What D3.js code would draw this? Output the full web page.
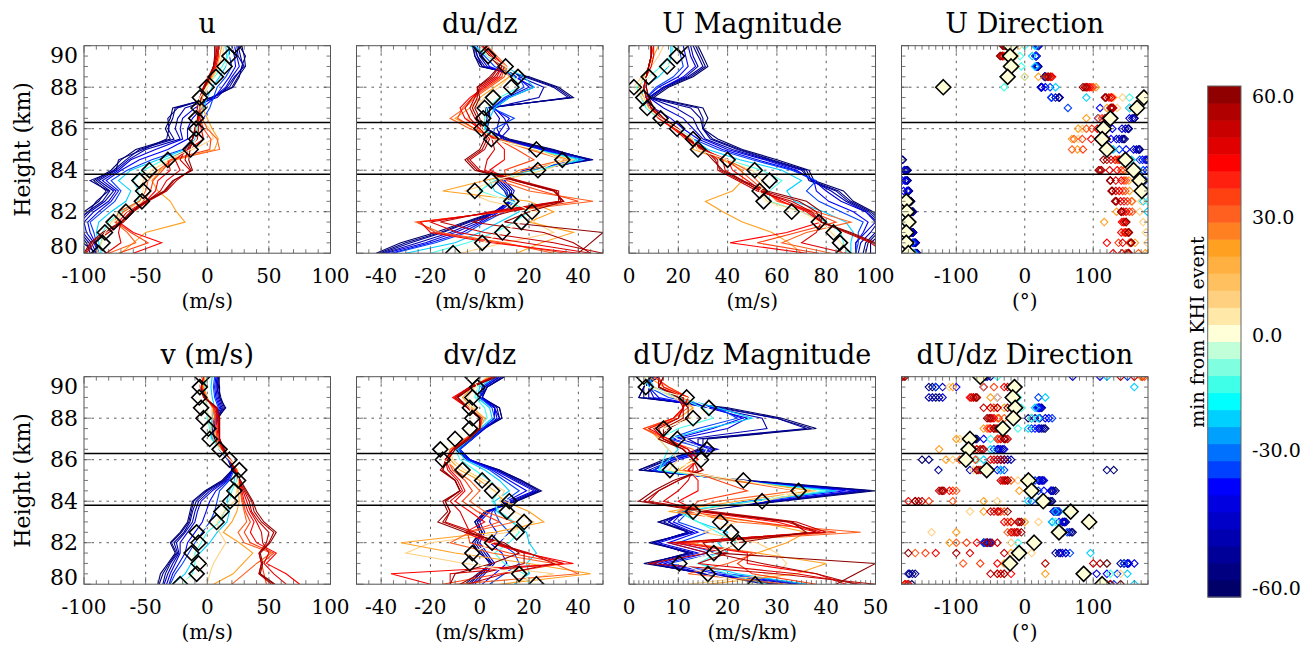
<!DOCTYPE html>
<html>
<head>
<meta charset="utf-8">
<script src="https://cdn.jsdelivr.net/npm/d3@7"></script>
<style>
  body { margin: 0; background: #fff; }
  text { font-family: "DejaVu Serif", serif; fill: #000; }
</style>
</head>
<body>
<svg width="1303" height="649"></svg>
<script>
// --- data: profiles, top (90 km) to bottom (80 km) ---
const heights = [90, 89.5, 89, 88.5, 88, 87.5, 87, 86.5, 86, 85.5, 85, 84.5, 84, 83.5, 83, 82.5, 82, 81.5, 81, 80.5, 80];
const times = [-60, -55, -50, -45, -40, -35, -30, -20, -10, 10, 20, 30, 35, 40, 45, 50, 55, 60];
const shearLayer = [86.3, 83.8];

const uProf = [
  [28,30,31,25,20,5,-28,-30,-34,-30,-58,-70,-78,-92,-82,-88,-100,-108,-105,-98,-95],
  [26,31,28,26,21,3,-24,-32,-31,-33,-52,-72,-74,-95,-80,-90,-96,-110,-100,-101,-90],
  [25,27,29,23,18,4,-26,-28,-32,-27,-55,-66,-76,-90,-79,-85,-97,-105,-103,-96,-92],
  [24,25,30,22,16,8,-18,-24,-26,-22,-50,-64,-74,-88,-76,-83,-95,-103,-101,-94,-90],
  [22,24,26,20,15,5,-10,-20,-22,-20,-42,-62,-72,-85,-74,-80,-92,-100,-98,-92,-88],
  [20,22,23,18,12,6,-4,-12,-16,-16,-32,-55,-70,-82,-72,-78,-88,-97,-95,-91,-87],
  [18,18,20,15,8,5,2,-3,-8,-12,-20,-45,-65,-78,-70,-75,-85,-95,-92,-90,-88],
  [15,16,15,10,4,0,-3,-5,-8,-10,-18,-40,-62,-72,-62,-66,-78,-88,-90,-88,-86],
  [18,17,12,6,0,-4,-6,-8,-8,-9,-15,-35,-52,-60,-56,-56,-70,-80,-85,-86,-88],
  [14,12,9,5,0,-4,-5,-6,2,5,-12,-30,-45,-52,-52,-55,-68,-78,-82,-86,-90],
  [12,10,8,4,-1,-4,-4,0,4,9,6,-25,-38,-45,-40,-30,-25,-18,-50,-60,-70],
  [10,8,6,3,-2,-5,-6,-4,0,8,10,-28,-40,-48,-50,-55,-72,-75,-65,-58,-80],
  [9,8,6,3,-2,-5,-7,-6,-3,3,2,-30,-36,-44,-46,-52,-68,-74,-62,-48,-72],
  [9,9,7,2,-3,-6,-7,-6,-5,-3,-15,-32,-30,-40,-42,-50,-65,-72,-60,-37,-60],
  [9,8,6,1,-3,-6,-8,-7,-7,-8,-16,-26,-22,-33,-38,-49,-62,-70,-72,-70,-82],
  [8,7,5,1,-3,-5,-8,-8,-9,-12,-18,-22,-14,-25,-33,-48,-60,-68,-80,-92,-98],
  [7,7,5,2,-3,-5,-8,-8,-10,-12,-16,-18,-13,-27,-34,-49,-61,-69,-83,-94,-99],
  [6,6,5,2,-2,-5,-7,-8,-10,-12,-14,-15,-12,-28,-35,-50,-62,-70,-85,-95,-100]
];
const uEvent = [22,18,14,7,-0.5,-6,-7,-9,-9,-9,-13.5,-32,-47,-55,-52,-53,-66,-76,-83,-85,-88];

const dudzProf = [
  [-3,-2,0,20,32,38,2,3,2,12,30,44,22,6,10,12,6,-6,-18,-32,-42],
  [-2,-2,1,19,31,37,3,4,2,11,29,45,21,7,11,12,7,-5,-16,-30,-41],
  [-2,-1,1,18,30,36,4,4,3,10,28,46,20,8,12,13,8,-4,-15,-28,-40],
  [-2,-1,2,16,26,24,5,8,7,9,27,44,19,9,13,12,7,-2,-12,-25,-39],
  [-1,0,3,14,22,12,6,10,12,8,26,42,18,10,14,12,6,0,-10,-22,-38],
  [-2,1,4,15,20,11,5,12,9,6,25,41,19,8,12,13,8,1,-7,-20,-36],
  [-3,2,6,16,18,10,5,14,6,5,24,40,20,6,10,14,10,2,-5,-18,-35],
  [-4,4,10,18,22,12,6,4,2,6,22,42,22,4,6,14,16,8,0,-10,-30],
  [-2,3,9,14,16,8,3,2,2,5,22,40,24,6,0,12,20,14,6,-5,-20],
  [0,4,8,12,8,2,-2,-5,0,6,20,38,26,8,-6,4,24,22,30,10,-8],
  [2,6,10,12,6,0,-4,-10,-2,8,22,36,20,2,-15,20,30,20,38,25,15],
  [3,7,11,10,4,-2,-6,-12,-4,8,20,34,16,8,20,46,10,-26,-16,10,30],
  [2,6,10,9,3,-3,-7,-9,-2,7,15,22,10,11,25,40,9,-25,-18,8,35],
  [2,6,10,8,2,-4,-8,-6,0,6,10,10,4,14,30,34,8,-24,-20,5,40],
  [1,5,9,7,1,-3,-6,-4,0,5,6,3,2,15,31,33,6,-20,-9,18,45],
  [1,5,9,6,0,-2,-4,-2,1,4,2,-4,0,16,32,32,4,-16,2,30,50],
  [0,4,8,5,-1,-1,-3,-1,1,3,1,-5,-1,15,31,33,12,-3,26,38,45],
  [0,4,8,4,-1,0,-2,0,1,2,0,-6,-2,14,30,34,20,10,50,45,40]
];
const dudzEvent = [0,3.4,10.5,15.5,12.8,5.4,2,1.4,0.7,4.7,23,33.5,23.6,4.7,-2,12.8,21.2,16.9,9.2,1,-10.8];

const umagProf = [
  [28,30,32,26,16,10,30,32,30,36,46,60,73,75,87,91,99,104,103,98,98],
  [27,29,31,25,15,9,28,30,30,34,45,58,72,74,85,90,98,103,101,97,96],
  [26,28,30,24,14,8,25,29,30,33,44,57,71,73,84,89,97,102,100,96,95],
  [25,26,28,23,14,8,19,26,28,31,42,56,70,74,82,88,96,101,98,94,93],
  [24,25,27,22,14,8,14,22,26,30,40,55,68,75,80,86,96,100,96,92,92],
  [22,23,24,20,12,7,10,17,22,28,38,52,67,75,76,81,91,97,95,92,92],
  [20,21,22,18,11,7,8,12,19,26,36,50,66,76,72,77,86,95,93,93,92],
  [17,17,16,12,6,5,7,12,20,26,32,45,62,70,64,67,79,88,91,90,90],
  [18,17,13,8,3,5,7,12,19,26,29,40,54,62,57,57,70,80,86,87,89],
  [14,12,9,5,2,5,8,13,18,25,28,38,50,54,53,56,70,78,82,86,90],
  [12,10,8,6,4,6,8,12,19,26,26,38,46,46,42,31,38,46,58,65,70],
  [10,9,8,7,6,7,9,13,19,25,28,40,48,52,56,60,76,90,72,62,82],
  [10,9,8,7,6,7,9,13,18,24,29,40,45,50,55,61,74,84,68,52,77],
  [10,10,9,7,6,7,9,12,18,23,30,40,42,48,54,62,72,78,64,41,72],
  [9,9,8,7,6,7,9,13,19,24,31,38,39,46,53,64,73,78,76,70,88],
  [9,9,8,7,6,7,9,13,19,24,31,36,36,44,52,66,74,78,88,98,104],
  [9,9,8,7,7,8,10,14,20,24,31,35,37,45,54,69,76,78,89,99,105],
  [9,9,8,7,7,8,10,14,20,24,30,34,38,46,56,72,78,78,90,100,106]
];
const umagEvent = [21,19.5,15.5,8,2,5.8,7.4,12.8,19.5,26,28,40,51,57,53,54.6,66,77,83,85.6,87];

const udirProf = [
  [20,17,20,29,24,50,168,160,152,146,168,-178,-171,-171,-169,-166,-163,-166,-163,-159,-157],
  [20,17,19,30,24,50,168,160,151,144,167,-179,-172,-172,-170,-166,-164,-167,-163,-160,-158],
  [20,17,19,30,24,51,169,160,151,142,166,180,-173,-172,-170,-167,-164,-167,-164,-160,-159],
  [20,16,18,29,24,45,162,157,147,138,163,178,-175,-174,-171,-168,-165,-168,-164,-161,-159],
  [20,16,17,29,25,39,153,153,142,134,159,176,-176,-175,-172,-169,-167,-168,-165,-162,-159],
  [19,16,17,30,30,39,110,130,128,126,148,172,178,-179,-177,-173,-170,-169,-166,-163,-160],
  [18,16,17,31,37,39,63,107,115,119,138,168,173,176,178,-177,-173,-171,-168,-164,-161],
  [15,11,15,31,45,90,127,117,114,113,129,156,166,166,166,173,179,-176,-172,-168,-162],
  [0,-7,-5,0,-30,153,153,129,114,111,122,150,161,167,170,180,-176,-173,-173,-172,-167],
  [-8,-14,-13,0,90,143,135,119,84,78,116,141,154,165,171,170,168,173,177,179,180],
  [-20,-25,-18,20,104,129,120,90,78,69,77,135,146,152,153,157,134,116,150,161,176],
  [-25,-30,-25,35,100,126,127,108,90,72,69,136,145,148,147,156,157,145,148,153,166],
  [-26,-31,-22,38,98,126,127,113,98,84,85,138,141,145,143,150,153,144,145,137,148],
  [-28,-32,-20,40,95,127,128,117,106,97,120,139,135,141,138,145,148,142,141,120,129],
  [-29,-32,-21,38,92,123,129,120,111,108,122,132,124,133,133,140,144,145,147,143,142],
  [-30,-33,-22,35,90,119,129,122,117,119,125,126,112,125,128,134,141,148,151,155,152],
  [-31,-35,-24,33,88,118,127,121,118,119,121,120,110,125,127,133,141,148,152,155,151],
  [-32,-36,-25,30,85,117,125,120,119,119,117,115,108,125,127,132,141,148,152,156,151]
];
const udirEvent = [-21,-21.5,-20,-25,-119,174,164,125,115,113,120,147,159,168,171,-173,-172,-170,-173,-173,-170];

const vProf = [
  [10,9,11,14,9,6,6,11,18,20,12,-2,-12,-14,-16,-22,-30,-26,-32,-38,-40],
  [9,10,10,15,8,6,5,11,19,21,13,-1,-11,-13,-15,-21,-29,-25,-31,-36,-39],
  [9,8,10,13,8,5,5,10,18,21,14,0,-9,-12,-14,-19,-27,-24,-30,-34,-36],
  [8,8,9,12,8,5,6,10,17,20,15,2,-7,-10,-12,-18,-25,-23,-28,-32,-35],
  [8,7,8,11,7,4,5,10,17,21,16,4,-5,-8,-10,-16,-22,-22,-26,-30,-33],
  [7,6,7,10,6,4,4,10,17,21,17,7,2,-1,-4,-10,-16,-18,-23,-28,-31],
  [6,5,6,9,6,4,4,10,17,22,18,10,8,6,2,-4,-10,-15,-20,-26,-30],
  [4,3,4,6,4,3,4,10,18,23,22,18,16,18,16,8,2,-6,-13,-18,-28],
  [0,-2,-1,0,0,2,3,10,18,24,24,20,18,14,10,0,-5,-10,-10,-12,-20],
  [-2,-3,-2,0,1,3,5,11,18,24,25,24,22,14,8,10,15,10,5,2,0],
  [-2,-3,0,4,4,5,7,12,19,24,25,25,26,24,20,13,26,37,29,21,5],
  [-3,-4,-1,5,6,7,8,12,19,24,26,27,28,30,32,25,30,52,40,30,20],
  [-3,-4,-1,5,7,7,8,12,19,24,26,27,29,31,35,30,35,54,44,46,48],
  [-3,-5,-2,6,8,8,9,12,18,23,26,28,30,33,38,35,40,56,48,64,75],
  [-4,-5,-2,7,9,9,10,13,18,22,26,29,32,35,40,44,45,50,46,54,64],
  [-4,-5,-2,7,9,9,10,13,18,22,26,30,34,36,42,50,48,42,44,42,52],
  [-4,-6,-2,8,10,10,10,13,18,22,27,31,36,38,44,54,50,42,44,42,54],
  [-4,-6,-3,8,10,10,10,14,18,22,27,32,37,40,46,56,51,43,45,43,55]
];
const vEvent = [-4,-6,-6.5,-5,-3,1,2,10,18,26,25,22,18.5,11.5,7.6,-8.6,-7,-12.7,-7,-8.6,-22];

const dvdzProf = [
  [10,3,0,8,9,1,-4,-10,-5,8,17,25,15,2,-2,0,-3,0,5,-1,-6],
  [10,3,1,8,9,2,-4,-10,-4,8,17,24,15,3,-2,1,-3,0,5,0,-5],
  [9,3,1,7,8,2,-3,-9,-4,7,16,24,14,3,-1,1,-2,1,4,0,-4],
  [8,2,0,6,8,1,-3,-9,-5,7,15,23,13,3,-1,1,-1,2,5,1,-3],
  [8,2,1,6,7,2,-3,-8,-4,6,14,22,12,4,0,2,0,3,6,2,-2],
  [7,1,0,6,6,1,-3,-8,-4,5,12,19,11,5,4,7,4,9,11,6,1],
  [7,1,0,5,6,1,-3,-8,-5,4,10,16,10,6,8,12,8,14,16,10,4],
  [6,0,-1,4,5,0,-4,-9,-6,2,8,12,6,7,13,19,20,23,19,20,14],
  [4,-1,-2,2,3,-1,-5,-10,-8,-2,4,8,5,8,14,16,12,6,10,18,20],
  [3,-2,-5,-2,1,-1,-6,-12,-11,-6,2,10,8,14,22,12,-20,-30,-6,30,10],
  [4,-3,-7,-3,2,0,-6,-12,-12,-8,0,6,10,20,26,6,-32,-10,20,45,8],
  [5,-3,-9,-4,1,0,-6,-12,-13,-10,-4,0,-4,2,14,-4,-12,5,30,40,-10],
  [5,-4,-10,-5,1,0,-6,-11,-13,-11,-6,-3,-7,-1,8,-5,-4,12,34,8,-15],
  [6,-4,-11,-5,0,0,-5,-11,-14,-12,-8,-6,-10,-4,2,-6,4,18,38,-36,-20],
  [6,-4,-10,-5,0,0,-5,-11,-14,-13,-9,-7,-12,-8,-6,-4,5,19,34,-12,-12],
  [6,-4,-10,-5,0,0,-5,-11,-14,-15,-10,-8,-14,-12,-14,-2,6,20,30,10,-5],
  [6,-3,-9,-5,0,0,-5,-10,-13,-15,-10,-8,-14,-12,-15,-4,8,18,18,0,-8],
  [7,-3,-9,-5,0,0,-4,-10,-13,-16,-10,-8,-15,-13,-17,-6,10,16,5,-10,-12]
];
const dvdzEvent = [-3,-1,-3,-4,-3,-4,-10,-16,-15,-7,1,5,12,11,18,15,5,-3,-4,16,23];

const dUmagProf = [
  [6,3,2,20,31,38,16,15,7,2,24,50,31,13,6,13,4,13,3,16,30],
  [6,3,2,19,30,37,15,15,8,2,24,49,30,12,6,12,5,12,4,15,29],
  [5,3,3,18,30,36,14,14,8,3,23,48,30,12,7,12,5,12,4,15,28],
  [5,4,4,17,27,28,12,16,9,4,22,47,29,11,8,12,5,13,5,15,31],
  [5,4,5,16,24,20,10,18,10,5,22,46,28,11,8,13,6,14,6,16,34],
  [4,4,6,17,23,17,9,17,9,5,21,44,26,11,9,14,8,16,7,18,35],
  [4,4,8,18,22,14,8,16,8,5,21,42,24,12,10,16,10,18,8,20,36],
  [4,5,10,18,25,16,8,10,8,6,21,42,26,10,14,20,18,20,14,22,36],
  [3,4,10,15,17,10,6,8,7,6,21,40,25,10,14,18,22,18,14,20,28],
  [3,5,9,13,12,6,6,8,10,8,20,38,27,12,22,15,26,30,32,30,12],
  [4,7,11,13,10,4,6,11,13,10,22,37,22,8,26,36,32,26,40,34,16],
  [5,8,12,12,9,3,7,13,14,11,21,34,18,10,22,47,12,26,20,12,32],
  [5,8,12,11,9,3,8,12,14,12,18,24,14,12,26,42,11,25,22,25,38],
  [6,7,12,11,9,4,8,12,14,12,14,14,10,14,30,38,10,24,24,38,44],
  [6,6,11,11,10,5,7,12,13,13,12,10,7,15,32,39,9,20,14,34,47],
  [6,6,11,11,10,6,7,11,13,14,10,6,4,17,34,40,8,16,4,30,50],
  [7,6,10,11,11,7,7,11,13,15,10,6,3,16,33,38,15,17,27,38,46],
  [7,6,10,12,12,8,6,11,13,15,9,5,2,15,33,36,22,18,50,46,42]
];
const dUmagEvent = [3,3.4,11.7,16.2,13,7,9.8,15.8,14.6,8.3,23.2,34.4,27,13,18.5,20.7,22.2,17.2,10.2,16,25.6];

const dUdirProf = [
  [-60,-135,-125,20,5,30,-70,-40,-150,130,20,45,40,50,60,70,-60,60,150,-168,-165],
  [-58,-140,-130,22,10,28,-72,-38,-140,120,22,42,38,48,58,68,-58,52,145,-164,-170],
  [-55,-130,-140,25,15,25,-75,-35,-20,-126,25,40,35,45,55,65,-55,45,140,-160,110],
  [-50,-120,-135,24,22,22,-78,-32,-25,-80,26,39,32,44,56,56,-52,50,150,-170,115],
  [70,-60,-120,22,30,20,-80,-30,-30,-40,28,38,30,42,58,48,-50,55,160,105,120],
  [110,-100,-40,20,35,15,-60,-38,-35,-35,22,28,20,46,50,55,-55,60,152,120,125],
  [150,-130,20,18,40,10,-40,-45,-40,-30,15,20,10,50,40,62,-60,66,145,135,130],
  [120,160,30,15,20,5,-35,-50,-60,-35,10,15,5,45,40,55,10,96,120,150,160],
  [-40,-20,-10,-5,10,-10,-50,-75,-70,-50,5,12,20,60,45,50,-10,-8,30,125,140],
  [160,-110,-40,-45,-15,-45,-95,-85,-105,-75,-10,5,-40,-80,20,-136,-20,10,-25,140,-175],
  [170,-105,-50,-30,-40,-60,-100,-125,-115,-60,0,-8,-60,-60,0,-100,-110,-20,-30,30,120],
  [175,-60,-70,-50,-30,-55,-40,-70,-95,-70,-20,-100,-105,-30,-20,-25,-100,-160,-90,-40,-175],
  [172,-45,-75,-45,-38,-52,-38,-75,-72,-62,-25,-105,-140,-35,-25,-18,-85,-145,-65,-30,-172],
  [-180,-30,-80,-40,-45,-50,-35,-80,-50,-55,-30,-110,-170,-40,-30,-10,-70,-130,-40,-20,-170],
  [160,-25,-78,-50,-48,-45,-30,-70,-45,-60,-32,-118,-160,-45,-20,-15,-55,-80,30,-35,-175],
  [140,-20,-75,-60,-50,-40,-25,-60,-40,-65,-35,-125,-150,-50,-10,-20,-40,-30,100,-50,110],
  [-178,-18,-72,-40,-52,-42,-28,-62,-35,-68,-28,-122,-155,-38,-8,-12,-48,-100,110,-40,125],
  [-175,-15,-70,-25,-55,-45,-30,-65,-30,-70,-25,-120,-160,-25,-5,-5,-55,-170,120,-30,140]
];
const dUdirEvent = [-65,-15,-17.5,-14,-16.6,-32,-80,-82,-86,-55.6,5.4,10,27,67,94,50,13.7,-8.3,-21.5,86,113];

// colour table, -60 (bottom) to +60 (top), 30 steps
const cbColors = ['#000068','#000080','#000098','#0000b0','#0000c8','#0000e0','#0000ff','#0040ff','#0070ff','#00a0ff',
  '#00d0ff','#00ffff','#40ffe8','#80ffe0','#c0ffd8','#ffffd8','#ffe8a8','#ffd080','#ffc060','#ffb040',
  '#ffa020','#ff8020','#ff6020','#ff4010','#ff2010','#ff0000','#e00000','#c80000','#b00000','#900000'];
const cbTicks = [-60, -30, 0, 30, 60];
const eventColor = '#ffffd8';

const panels = [
  { title: 'u', dom: [-100, 100], ticks: [-100, -50, 0, 50, 100], minor: 10, unit: '(m/s)', prof: uProf, ev: uEvent, kind: 'line' },
  { title: 'du/dz', dom: [-50, 50], ticks: [-40, -20, 0, 20, 40], minor: 5, unit: '(m/s/km)', prof: dudzProf, ev: dudzEvent, kind: 'line' },
  { title: 'U Magnitude', dom: [0, 100], ticks: [0, 20, 40, 60, 80, 100], minor: 4, unit: '(m/s)', prof: umagProf, ev: umagEvent, kind: 'line' },
  { title: 'U Direction', dom: [-180, 180], ticks: [-100, 0, 100], minor: 10, unit: '(°)', prof: udirProf, ev: udirEvent, kind: 'dir' },
  { title: 'v (m/s)', dom: [-100, 100], ticks: [-100, -50, 0, 50, 100], minor: 10, unit: '(m/s)', prof: vProf, ev: vEvent, kind: 'line' },
  { title: 'dv/dz', dom: [-50, 50], ticks: [-40, -20, 0, 20, 40], minor: 5, unit: '(m/s/km)', prof: dvdzProf, ev: dvdzEvent, kind: 'line' },
  { title: 'dU/dz Magnitude', dom: [0, 50], ticks: [0, 10, 20, 30, 40, 50], minor: 1, unit: '(m/s/km)', prof: dUmagProf, ev: dUmagEvent, kind: 'line' },
  { title: 'dU/dz Direction', dom: [-180, 180], ticks: [-100, 0, 100], minor: 10, unit: '(°)', prof: dUdirProf, ev: dUdirEvent, kind: 'dir' }
];

// --- layout ---
const svg = d3.select('svg');
const defs = svg.append('defs');
const pw = 246.5, ph = 207.5;
const colX = c => 84 + c * 272.5;
const rowY = r => 45.7 + r * 331;
const frameCol = '#555';
const color = d3.scaleQuantize().domain([-60, 60]).range(cbColors);
const diamond = r => `M0,${-r}L${r},0L0,${r}L${-r},0Z`;

panels.forEach((p, i) => {
  const col = i % 4, row = Math.floor(i / 4);
  const x0 = colX(col), y0 = rowY(row);
  const x = d3.scaleLinear().domain(p.dom).range([x0, x0 + pw]);
  const y = d3.scaleLinear().domain([80, 90]).range([y0 + ph, y0]);
  const g = svg.append('g');

  defs.append('clipPath').attr('id', 'clip' + i)
    .append('rect').attr('x', x0).attr('y', y0).attr('width', pw).attr('height', ph);

  // grid
  const grid = g.append('g').attr('stroke', '#333').attr('stroke-width', 0.8).attr('stroke-dasharray', '2.5,5');
  p.ticks.filter(t => t > p.dom[0] && t < p.dom[1]).forEach(t => {
    grid.append('line').attr('x1', x(t)).attr('x2', x(t)).attr('y1', y0).attr('y2', y0 + ph);
  });
  [82, 84, 86, 88].forEach(h => {
    grid.append('line').attr('x1', x0).attr('x2', x0 + pw).attr('y1', y(h)).attr('y2', y(h));
  });

  const plot = g.append('g').attr('clip-path', `url(#clip${i})`);

  if (p.kind === 'line') {
    const line = d3.line().x(d => x(d[0])).y(d => y(d[1]));
    p.prof.forEach((vals, k) => {
      plot.append('path')
        .datum(vals.map((v, j) => [v, heights[j]]))
        .attr('d', line)
        .attr('fill', 'none')
        .attr('stroke', color(times[k]))
        .attr('stroke-width', 1.1);
    });
    plot.append('path')
      .datum(p.ev.map((v, j) => [v, heights[j]]))
      .attr('d', line)
      .attr('fill', 'none')
      .attr('stroke', eventColor)
      .attr('stroke-width', 1.1);
  } else {
    p.prof.forEach((vals, k) => {
      vals.forEach((v, j) => {
        plot.append('path')
          .attr('d', diamond(3.7))
          .attr('transform', `translate(${x(v)},${y(heights[j])})`)
          .attr('fill', 'none')
          .attr('stroke', color(times[k]))
          .attr('stroke-width', 1.1);
      });
    });
  }

  // shear layer boundaries
  shearLayer.forEach(h => {
    plot.append('line').attr('x1', x0).attr('x2', x0 + pw).attr('y1', y(h)).attr('y2', y(h))
      .attr('stroke', '#000').attr('stroke-width', 1.5);
  });

  // event profile diamonds
  p.ev.forEach((v, j) => {
    plot.append('path')
      .attr('d', diamond(7.5))
      .attr('transform', `translate(${x(v)},${y(heights[j])})`)
      .attr('fill', p.kind === 'dir' ? eventColor : 'none')
      .attr('stroke', '#000')
      .attr('stroke-width', 1.6);
  });

  // frame + minor ticks
  g.append('rect').attr('x', x0).attr('y', y0).attr('width', pw).attr('height', ph)
    .attr('fill', 'none').attr('stroke', frameCol).attr('stroke-width', 1);
  const tk = g.append('g').attr('stroke', frameCol).attr('stroke-width', 0.8);
  d3.range(p.dom[0], p.dom[1] + 1e-9, p.minor).forEach(t => {
    const len = p.ticks.includes(t) ? 7 : 4;
    tk.append('line').attr('x1', x(t)).attr('x2', x(t)).attr('y1', y0).attr('y2', y0 + len);
    tk.append('line').attr('x1', x(t)).attr('x2', x(t)).attr('y1', y0 + ph).attr('y2', y0 + ph - len);
  });
  d3.range(80, 90.01, 0.5).forEach(h => {
    const len = h % 2 === 0 ? 7 : 4;
    tk.append('line').attr('x1', x0).attr('x2', x0 + len).attr('y1', y(h)).attr('y2', y(h));
    tk.append('line').attr('x1', x0 + pw).attr('x2', x0 + pw - len).attr('y1', y(h)).attr('y2', y(h));
  });

  // labels
  g.append('text').attr('x', x0 + pw / 2).attr('y', y0 - 12.5)
    .attr('text-anchor', 'middle').attr('font-size', 27).text(p.title);
  p.ticks.forEach(t => {
    g.append('text').attr('x', x(t)).attr('y', y0 + ph + 30)
      .attr('text-anchor', 'middle').attr('font-size', 20).text(t);
  });
  g.append('text').attr('x', x0 + pw / 2).attr('y', y0 + ph + 55)
    .attr('text-anchor', 'middle').attr('font-size', 20).text(p.unit);

  if (col === 0) {
    [80, 82, 84, 86, 88, 90].forEach(h => {
      const ty = Math.min(Math.max(y(h), y0 + 10), y0 + ph - 7);
      g.append('text').attr('x', x0 - 6).attr('y', ty)
        .attr('text-anchor', 'end').attr('dominant-baseline', 'central')
        .attr('font-size', 22).text(h);
    });
    g.append('text')
      .attr('transform', `translate(22,${y0 + ph / 2}) rotate(-90)`)
      .attr('text-anchor', 'middle').attr('dominant-baseline', 'central')
      .attr('font-size', 22).text('Height (km)');
  }
});

// --- colour bar ---
const cbX = 1207.7, cbW = 33.3, cbTop = 86, cbBot = 597;
const band = (cbBot - cbTop) / cbColors.length;
const cb = svg.append('g');
cbColors.forEach((c, k) => {
  cb.append('rect')
    .attr('x', cbX).attr('y', cbBot - (k + 1) * band)
    .attr('width', cbW).attr('height', band + 0.5)
    .attr('fill', c);
});
cb.append('rect').attr('x', cbX).attr('y', cbTop).attr('width', cbW).attr('height', cbBot - cbTop)
  .attr('fill', 'none').attr('stroke', '#666').attr('stroke-width', 1);
const cbLabelY = d3.scaleLinear().domain(cbTicks).range([588, 450, 335, 217, 96]);
cbTicks.forEach(t => {
  cb.append('text').attr('x', 1252).attr('y', cbLabelY(t))
    .attr('dominant-baseline', 'central').attr('font-size', 19)
    .text(t.toFixed(1));
});
cb.append('text')
  .attr('transform', `translate(1196.5,332) rotate(-90)`)
  .attr('text-anchor', 'middle').attr('dominant-baseline', 'central')
  .attr('font-size', 19).text('min from KHI event');
</script>
</body>
</html>
